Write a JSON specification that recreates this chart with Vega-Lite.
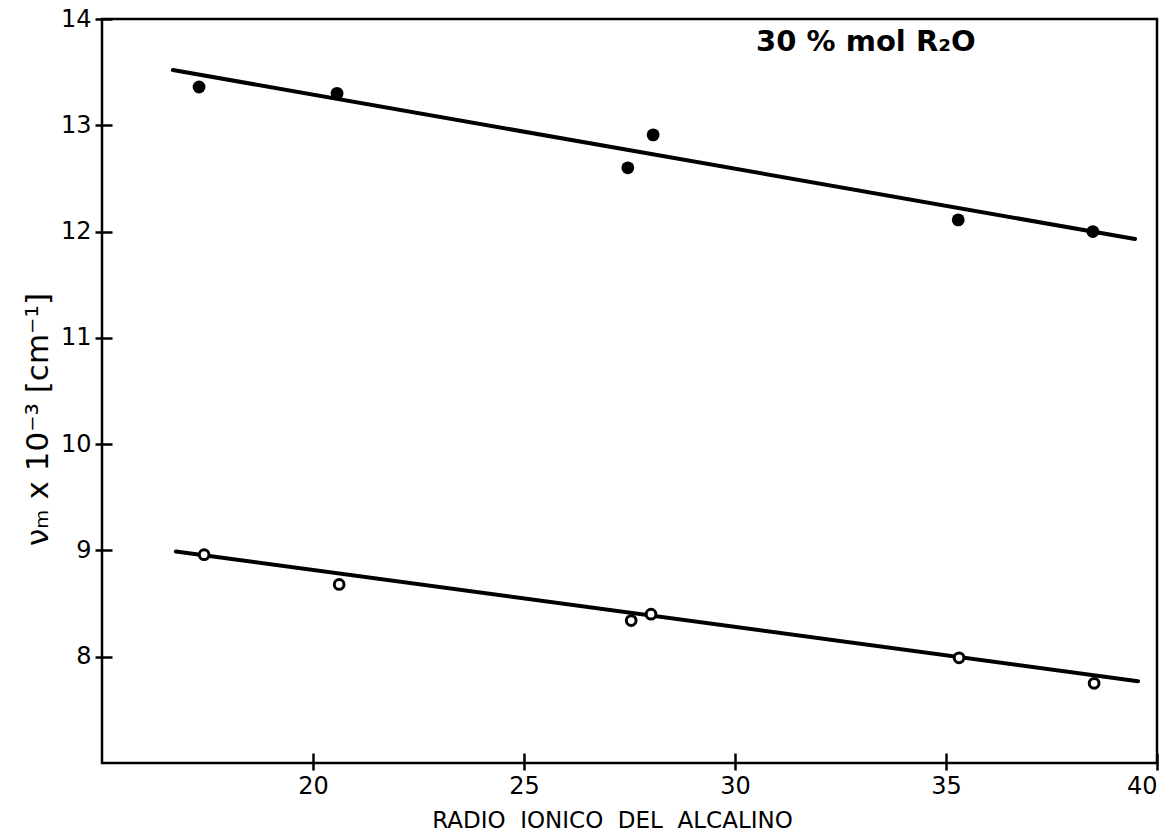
{
  "$schema": "https://vega.github.io/schema/vega-lite/v6.json",
  "width": 1055,
  "height": 744,
  "autosize": {"type": "none"},
  "padding": {"left": 102, "top": 19, "right": 16, "bottom": 74},
  "background": "white",
  "config": {
    "font": "DejaVu Sans",
    "view": {"stroke": "black", "strokeWidth": 2.5},
    "axis": {
      "grid": false,
      "domain": false,
      "ticks": true,
      "offset": -10,
      "tickSize": 17,
      "tickColor": "black",
      "tickWidth": 2.5,
      "tickOpacity": 1,
      "labelColor": "black",
      "titleColor": "black",
      "labelFont": "DejaVu Sans",
      "titleFont": "DejaVu Sans",
      "labelFontSize": 24,
      "titleFontWeight": "normal",
      "format": "d"
    }
  },
  "datasets": {
    "points": [
      {"radio": 17.30, "nu": 13.36, "serie": "fill"},
      {"radio": 20.57, "nu": 13.30, "serie": "fill"},
      {"radio": 27.46, "nu": 12.60, "serie": "fill"},
      {"radio": 28.06, "nu": 12.91, "serie": "fill"},
      {"radio": 35.29, "nu": 12.11, "serie": "fill"},
      {"radio": 38.48, "nu": 12.00, "serie": "fill"},
      {"radio": 17.42, "nu": 8.96, "serie": "open"},
      {"radio": 20.62, "nu": 8.68, "serie": "open"},
      {"radio": 27.54, "nu": 8.34, "serie": "open"},
      {"radio": 28.01, "nu": 8.40, "serie": "open"},
      {"radio": 35.31, "nu": 7.99, "serie": "open"},
      {"radio": 38.51, "nu": 7.75, "serie": "open"}
    ],
    "fits": [
      {"radio": 16.68, "nu": 13.52, "serie": "fill"},
      {"radio": 39.48, "nu": 11.93, "serie": "fill"},
      {"radio": 16.75, "nu": 8.99, "serie": "open"},
      {"radio": 39.55, "nu": 7.77, "serie": "open"}
    ],
    "note": [
      {"radio": 30.5, "nu": 13.78, "label": "30 % mol R₂O"}
    ]
  },
  "layer": [
    {
      "data": {"name": "fits"},
      "mark": {"type": "line", "color": "black", "strokeWidth": 4, "strokeCap": "round"},
      "encoding": {
        "x": {
          "field": "radio", "type": "quantitative",
          "scale": {"domain": [15, 40], "nice": false, "zero": false},
          "axis": {
            "orient": "bottom",
            "values": [20, 25, 30, 35, 40],
            "labelPadding": 4,
            "title": "RADIO\u00a0\u00a0IONICO\u00a0\u00a0DEL\u00a0\u00a0ALCALINO",
            "titleFontSize": 23,
            "titleX": 510,
            "titlePadding": 11
          }
        },
        "y": {
          "field": "nu", "type": "quantitative",
          "scale": {"domain": [7, 14], "nice": false, "zero": false},
          "axis": {
            "orient": "left",
            "values": [8, 9, 10, 11, 12, 13, 14],
            "labelPadding": 4,
            "title": "νₘ x 10⁻³ [cm⁻¹]",
            "titleFontSize": 31,
            "titleY": 400,
            "titlePadding": 6
          }
        },
        "detail": {"field": "serie"}
      }
    },
    {
      "data": {"name": "points"},
      "transform": [{"filter": "datum.serie === 'fill'"}],
      "mark": {"type": "point", "shape": "circle", "filled": true, "color": "black", "size": 165, "opacity": 1},
      "encoding": {
        "x": {"field": "radio", "type": "quantitative"},
        "y": {"field": "nu", "type": "quantitative"}
      }
    },
    {
      "data": {"name": "points"},
      "transform": [{"filter": "datum.serie === 'open'"}],
      "mark": {"type": "point", "shape": "circle", "filled": false, "fill": "white", "stroke": "black", "strokeWidth": 3, "size": 95, "opacity": 1},
      "encoding": {
        "x": {"field": "radio", "type": "quantitative"},
        "y": {"field": "nu", "type": "quantitative"}
      }
    },
    {
      "data": {"name": "note"},
      "mark": {"type": "text", "align": "left", "baseline": "middle", "fontSize": 29, "fontWeight": "bold", "font": "DejaVu Sans", "color": "black"},
      "encoding": {
        "x": {"field": "radio", "type": "quantitative"},
        "y": {"field": "nu", "type": "quantitative"},
        "text": {"field": "label"}
      }
    }
  ]
}
